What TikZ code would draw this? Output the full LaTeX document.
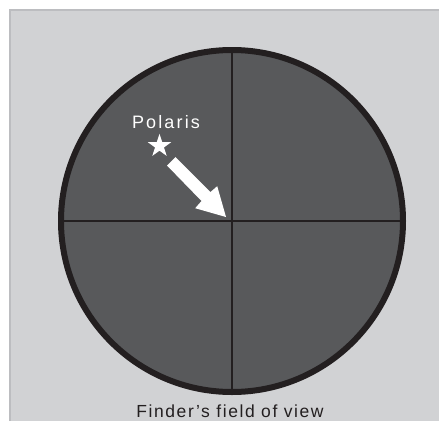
\documentclass[tikz,border=0pt]{standalone}
\usepackage{fontspec}
\setmainfont{Liberation Sans}
\newfontfamily\polfont[LetterSpace=12]{Liberation Sans}
\newfontfamily\capfont[LetterSpace=9]{Liberation Sans}
\usetikzlibrary{shapes.geometric}
\definecolor{panelgray}{HTML}{D1D2D4}
\definecolor{paneledge}{HTML}{BCBDC0}
\definecolor{fieldgray}{HTML}{58595B}
\definecolor{rimdark}{HTML}{231F20}
\tikzset{
  lbl/.style={inner sep=0pt, anchor=base},
  crosshair/.style={draw=rimdark, line width=1.1pt},
  starmark/.style={star, star points=5, star point ratio=2.618, minimum size=24.5pt, inner sep=0pt, fill=white, draw=none}
}
\begin{document}
\begin{tikzpicture}[x=1pt,y=-1pt]
\useasboundingbox (0,0) rectangle (439,421);
\fill[white] (0,0) rectangle (439,421);
\fill[panelgray] (9,9) rectangle (439,421);
\draw[paneledge, line width=2pt] (10,421) -- (10,10) -- (439,10);
% field of view
\coordinate (c) at (232,221);
\fill[fieldgray] (c) circle[radius=171];
\coordinate (l) at (61,221);
\coordinate (r) at (403,221);
\coordinate (t) at (232,50);
\coordinate (b) at (232,392);
\draw[crosshair] (l) -- (r);
\draw[crosshair] (t) -- (b);
\draw[rimdark, line width=6pt] (c) circle[radius=171];
% Polaris
\node[lbl, text=white, font=\polfont\fontsize{18}{21}\selectfont] (pol) at (166,128.5) {Polaris};
\node[starmark] (star) at (159.5,146) {};
% arrow
\fill[white] (167,165.5) -- (175.5,157) -- (210.5,192) -- (217.2,186.2) -- (226,217) -- (195.2,208.2) -- (201.5,201) -- cycle;
% caption
\node[lbl, text=rimdark, font=\capfont\fontsize{17.5}{20}\selectfont] (cap) at (230,417) {Finder’s field of view};
\end{tikzpicture}
\end{document}
